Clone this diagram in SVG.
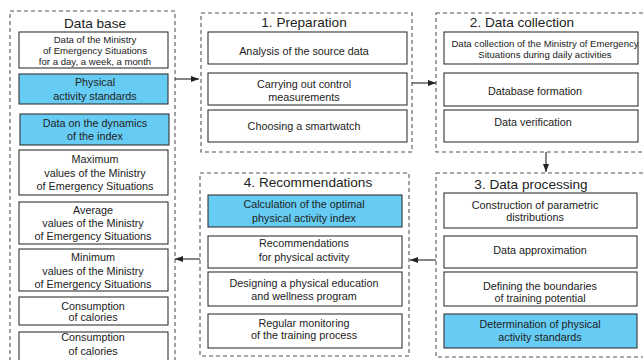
<svg xmlns="http://www.w3.org/2000/svg" width="643" height="360" viewBox="0 0 643 360">
<defs>
<marker id="ah" markerWidth="8" markerHeight="6" refX="8" refY="3" orient="auto" markerUnits="userSpaceOnUse">
<path d="M0,0 L8,3 L0,6 Z" fill="#222"/>
</marker>
<style>
.grp{fill:none;stroke:#555;stroke-width:1.1;stroke-dasharray:4 3}
.box{fill:#fff;stroke:#333;stroke-width:1.1}
.blue{fill:#66ccf4;stroke:#333;stroke-width:1.1}
text{font-family:"Liberation Sans",Arial,sans-serif;fill:#222;text-anchor:middle}
.t{font-size:13.6px}
.b{font-size:10.8px}
.s{font-size:9.6px}
.con{stroke:#222;stroke-width:1.1;fill:none;marker-end:url(#ah)}
</style>
</defs>
<rect width="643" height="360" fill="#fff"/>

<g id="database">
<rect class="grp" x="10" y="11" width="165" height="360"/>
<text class="t" x="95" y="28">Data base</text>
<rect class="box" x="19" y="32" width="149" height="36"/>
<text class="s" x="95" y="42.5">Data of the Ministry</text>
<text class="s" x="95" y="54">of Emergency Situations</text>
<text class="s" x="95" y="65">for a day, a week, a month</text>
<rect class="blue" x="19" y="74" width="149" height="30"/>
<text class="b" x="95" y="86">Physical</text>
<text class="b" x="95" y="100">activity standards</text>
<rect class="blue" x="20" y="114" width="149" height="31"/>
<text class="b" x="95" y="126.5">Data on the dynamics</text>
<text class="b" x="95" y="139.5">of the index</text>
<rect class="box" x="19" y="150" width="149" height="45"/>
<text class="b" x="95" y="163">Maximum</text>
<text class="b" x="95" y="176.5">values of the Ministry</text>
<text class="b" x="95" y="189.5">of Emergency Situations</text>
<rect class="box" x="19" y="202" width="149" height="42"/>
<text class="b" x="93" y="214">Average</text>
<text class="b" x="93" y="227">values of the Ministry</text>
<text class="b" x="93" y="240">of Emergency Situations</text>
<rect class="box" x="19" y="249" width="149" height="42"/>
<text class="b" x="93" y="261">Minimum</text>
<text class="b" x="93" y="274.5">values of the Ministry</text>
<text class="b" x="93" y="287.5">of Emergency Situations</text>
<rect class="box" x="19" y="297" width="149" height="28"/>
<text class="b" x="93" y="309.5">Consumption</text>
<text class="b" x="93" y="321">of calories</text>
<rect class="box" x="19" y="332" width="149" height="30"/>
<text class="b" x="93" y="341">Consumption</text>
<text class="b" x="93" y="354.5">of calories</text>
</g>

<g id="preparation">
<rect class="grp" x="201" y="13" width="211" height="139"/>
<text class="t" x="304" y="27">1. Preparation</text>
<rect class="box" x="208" y="32" width="199" height="32"/>
<text class="b" x="304" y="55">Analysis of the source data</text>
<rect class="box" x="208" y="73" width="199" height="32"/>
<text class="b" x="304" y="88">Carrying out control</text>
<text class="b" x="304" y="101">measurements</text>
<rect class="box" x="208" y="110" width="199" height="32"/>
<text class="b" x="304" y="130">Choosing a smartwatch</text>
</g>

<g id="collection">
<rect class="grp" x="436" y="13" width="212" height="139"/>
<text class="t" x="522" y="27">2. Data collection</text>
<rect class="box" x="444" y="32" width="194" height="32"/>
<text class="s" x="545" y="47">Data collection of the Ministry of Emergency</text>
<text class="s" x="545" y="58">Situations during daily activities</text>
<rect class="box" x="444" y="73" width="194" height="33"/>
<text class="b" x="535" y="94.5">Database formation</text>
<rect class="box" x="444" y="110" width="194" height="32"/>
<text class="b" x="533" y="125.5">Data verification</text>
</g>

<g id="processing">
<rect class="grp" x="436" y="173" width="212" height="184"/>
<text class="t" x="531" y="189">3. Data processing</text>
<rect class="box" x="444" y="193" width="193" height="35"/>
<text class="b" x="535" y="209">Construction of parametric</text>
<text class="b" x="535" y="221">distributions</text>
<rect class="box" x="444" y="236" width="193" height="32"/>
<text class="b" x="540" y="254">Data approximation</text>
<rect class="box" x="444" y="272" width="193" height="34"/>
<text class="b" x="540" y="290">Defining the boundaries</text>
<text class="b" x="540" y="301.5">of training potential</text>
<rect class="blue" x="444" y="314" width="193" height="34"/>
<text class="b" x="540" y="328">Determination of physical</text>
<text class="b" x="540" y="341">activity standards</text>
</g>

<g id="recommendations">
<rect class="grp" x="200" y="173" width="209" height="183"/>
<text class="t" x="308" y="186.5">4. Recommendations</text>
<rect class="blue" x="208" y="195" width="194" height="32"/>
<text class="b" x="304" y="208">Calculation of the optimal</text>
<text class="b" x="304" y="221.5">physical activity index</text>
<rect class="box" x="208" y="236" width="194" height="32"/>
<text class="b" x="304" y="247">Recommendations</text>
<text class="b" x="304" y="260.5">for physical activity</text>
<rect class="box" x="208" y="272" width="194" height="34"/>
<text class="b" x="304" y="287">Designing a physical education</text>
<text class="b" x="304" y="300">and wellness program</text>
<rect class="box" x="208" y="314" width="194" height="34"/>
<text class="b" x="304" y="326.5">Regular monitoring</text>
<text class="b" x="304" y="339">of the training process</text>
</g>

<g id="connectors">
<line class="con" x1="175" y1="79" x2="199" y2="79"/>
<line class="con" x1="412" y1="83" x2="436" y2="83"/>
<line class="con" x1="546" y1="152" x2="546" y2="172"/>
<line class="con" x1="436" y1="260" x2="410" y2="260"/>
<line class="con" x1="200" y1="259" x2="175" y2="259"/>
</g>
</svg>
